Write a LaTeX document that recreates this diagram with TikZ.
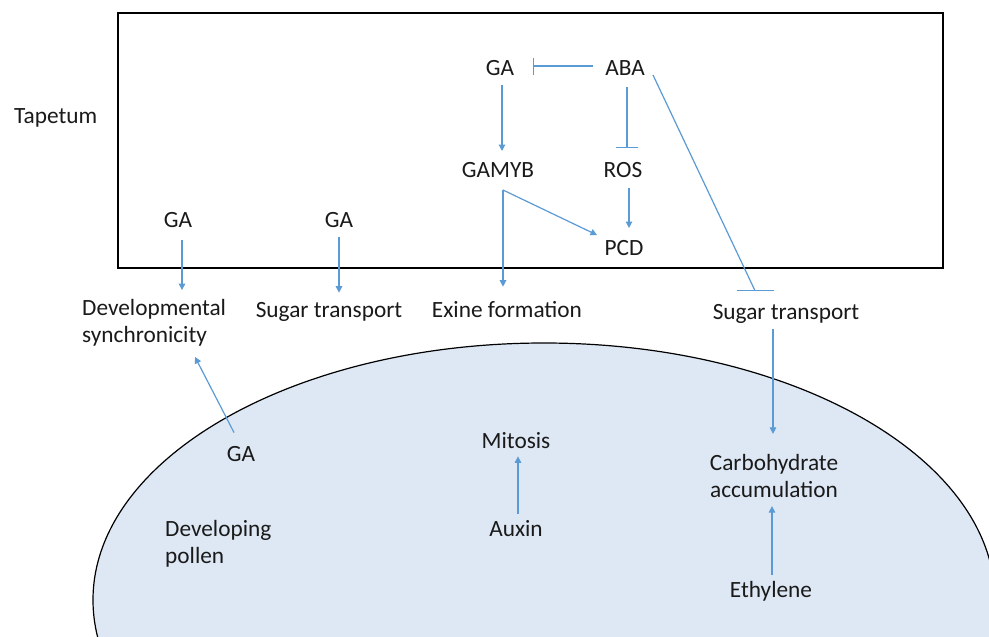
\documentclass[tikz,border=0pt]{standalone}
\usepackage{fontspec}
\setmainfont{Carlito}
\usetikzlibrary{arrows.meta,calc}
\definecolor{arrblue}{HTML}{5B9BD5}
\definecolor{pollenfill}{HTML}{DEE8F4}
\definecolor{txt}{HTML}{1A1A1A}
\begin{document}
\begin{tikzpicture}[x=1pt,y=-1pt,
  lbl/.style={inner sep=0pt, font=\fontsize{23.3}{27.5}\selectfont, text=txt},
  arr/.style={draw=arrblue, line width=1.2pt, -{Triangle[length=6.5pt,width=6.5pt]}},
  inh/.style={draw=arrblue, line width=1.3pt, -{Bar[width=#1]}},
  link/.style={draw=arrblue, line width=1.2pt},
]
\useasboundingbox (0,0) rectangle (989,637);
\clip (0,0) rectangle (989,637);
\fill[white] (0,0) rectangle (989,637);
\draw[fill=pollenfill, line width=1.2pt] (544,600) ellipse [x radius=451, y radius=257];
\draw[line width=1.5pt] (118,13) rectangle (943,268);

% labels
\node[lbl, anchor=base west] (tap) at (14,123) {Tapetum};
\node[lbl] (ga1) at (500,68) {GA};
\node[lbl] (aba) at (625,68) {ABA};
\node[lbl] (gamyb) at (498,170) {GAMYB};
\node[lbl] (ros) at (623,170) {ROS};
\node[lbl] (pcd) at (624,248) {PCD};
\node[lbl] (gaL) at (178,220) {GA};
\node[lbl] (gaM) at (339,220) {GA};
\node[lbl, align=left, anchor=west] (dev) at (82,323) {Developmental\\synchronicity};
\node[lbl, anchor=base] (sugarL) at (329,317) {Sugar transport};
\node[lbl, anchor=base] (exine) at (507,317) {Exine formation};
\node[lbl, anchor=base] (sugarR) at (786,319) {Sugar transport};
\node[lbl, anchor=base] (gaE) at (241,461) {GA};
\node[lbl, anchor=base] (mitosis) at (516,448) {Mitosis};
\node[lbl, anchor=base] (auxin) at (516,536) {Auxin};
\node[lbl, align=center] (carb) at (774,476) {Carbohydrate\\accumulation};
\node[lbl, align=left, anchor=west] (pollen) at (165,544) {Developing\\pollen};
\node[lbl, anchor=base] (eth) at (771,597) {Ethylene};

% connectors inside the tapetum
\draw[inh=17pt] ($(aba)+(-32,-2)$) -- ($(ga1)+(33,-2)$);
\draw[arr] ($(ga1)+(2,17)$) -- ($(gamyb)+(4,-19)$);
\draw[inh=22pt] ($(aba)+(2,19)$) -- ($(ros)+(4,-22)$);
\draw[arr] ($(ros)+(6,18)$) -- ($(pcd)+(5,-20)$);
\coordinate (fork) at ($(gamyb)+(5,20)$);
\draw[arr] (fork) -- ($(pcd)+(-27,-13)$);
\draw[arr] (fork) -- ($(fork |- exine.north)+(0,-14)$);
\draw[arr] ($(gaL)+(4,20)$) -- ($(gaL |- dev.north)+(4,-9)$);
\draw[arr] ($(gaM)+(0,17)$) -- ($(gaM |- sugarL.north)+(0,-9)$);

% ABA inhibits sugar transport
\coordinate (abaT) at ($(sugarR.north)+(-31,-13)$);
\draw[link] ($(aba)+(28,7)$) -- (abaT);
\draw[link] ($(abaT)+(-18.5,0)$) -- ($(abaT)+(18.5,0)$);

% connectors in the pollen
\draw[arr] ($(gaE)+(-7,-21)$) -- ($(dev.south west)+(113,10)$);
\draw[arr] ($(auxin.north)+(2,-6)$) -- ($(mitosis.south)+(2,8)$);
\draw[arr] ($(sugarR.south)+(-13,6)$) -- ($(carb.north)+(-1,-20)$);
\draw[arr] ($(eth.north)+(1,-6)$) -- ($(carb.south)+(-2,8)$);
\end{tikzpicture}
\end{document}
